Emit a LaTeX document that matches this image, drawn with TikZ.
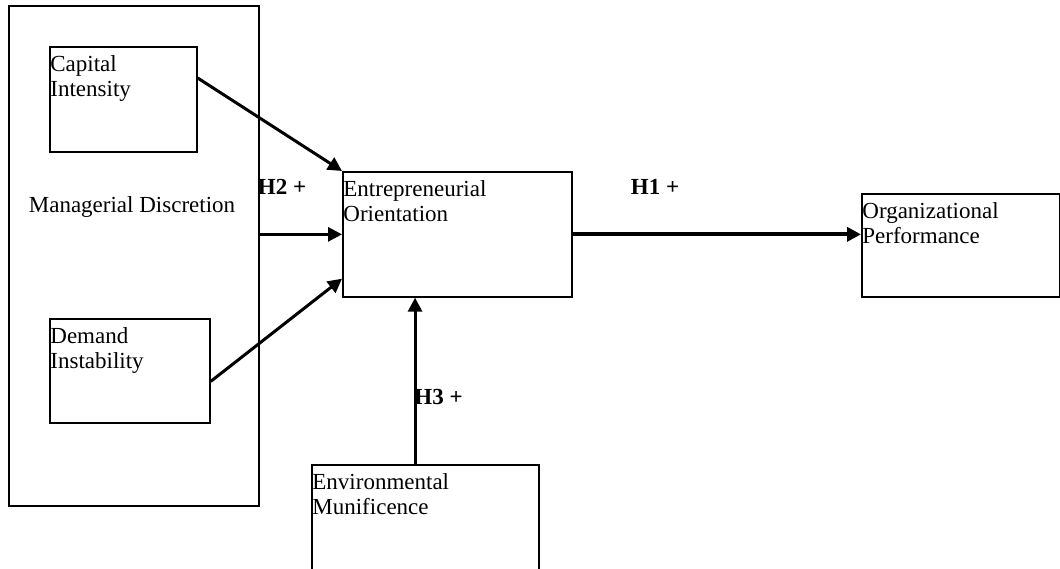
\documentclass[tikz,border=0pt]{standalone}
\usepackage{fontspec}
\setmainfont{Liberation Serif}
\usetikzlibrary{arrows.meta, positioning, calc}
\newcommand{\fsz}{\fontsize{11.5}{12.5}\selectfont}
\tikzset{
  bx/.style={draw, line width=0.85pt, inner sep=0pt, anchor=north west},
  txt/.style={font=\fsz, align=left, inner xsep=0.5pt, inner ysep=4.5pt, anchor=north west},
  a/.style={-{Triangle[length=7pt, width=7pt]}, line width=1.5pt},
  ab/.style={a, line width=2pt},
  lbl/.style={font=\fsz\bfseries, inner sep=0pt},
}
\begin{document}
\begin{tikzpicture}[x=0.5pt, y=-0.5pt]
\useasboundingbox (0,0) rectangle (1060,568);
\clip (0,0) rectangle (1060,568);
\node[bx, minimum width=125pt, minimum height=250pt] (md) at (8,5) {};
\node[bx, minimum width=73.5pt, minimum height=52.5pt, label={[txt]north west:{Capital\\Intensity}}] (cap) at (49,46) {};
\node[bx, minimum width=80pt, minimum height=52pt, label={[txt]north west:{Demand\\Instability}}] (dem) at (49,318) {};
\node[font=\fsz] (mdtxt) at (132,207) {Managerial Discretion};
\node[bx, minimum width=114.5pt, minimum height=62.5pt, label={[txt]north west:{Entrepreneurial\\Orientation}}] (eo) at (342,171) {};
\node[bx, minimum width=99pt, minimum height=51.5pt, label={[txt]north west:{Organizational\\Performance}}] (op) at (861,193) {};
\node[bx, minimum width=113.5pt, minimum height=58pt, label={[txt]north west:{Environmental\\Munificence}}] (env) at (311,464) {};

\node[lbl] (h2) at (282,187) {H2 +};
\node[lbl] (h1) at (655,187) {H1 +};
\node[lbl, anchor=west] (h3) at (414,397) {H3 +};

\draw[a] ($(cap.north east)!0.3!(cap.south east)$) -- (eo.north west);
\draw[a] (md.east |- eo.west) -- (eo.west);
\draw[a] ($(dem.north east)!0.6!(dem.south east)$) -- ($(eo.west)!0.7!(eo.south west)$);
\draw[ab] (eo.east) -- (op.west |- eo.east);
\draw[a] ($(env.north west)!0.455!(env.north east)$) coordinate (envtop) -- (envtop |- eo.south);
\end{tikzpicture}
\end{document}
